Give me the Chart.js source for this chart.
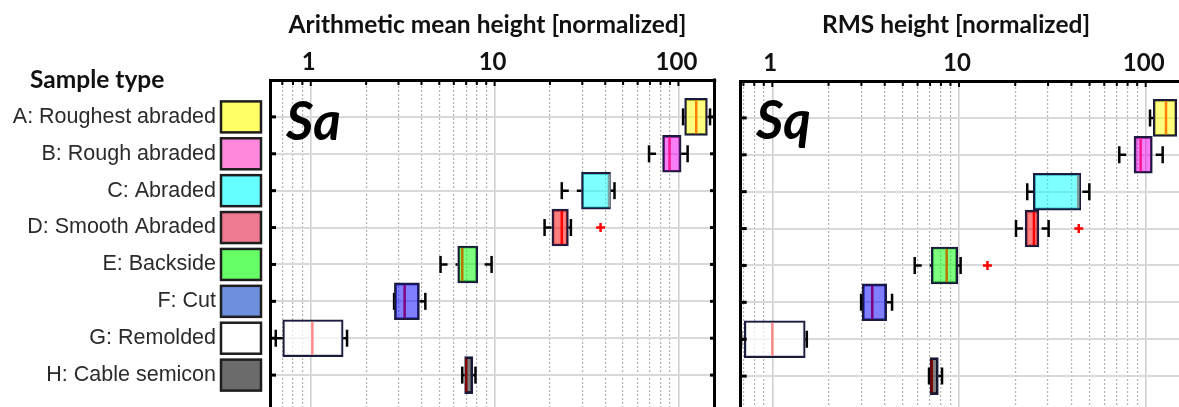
<!DOCTYPE html>
<html>
<head>
<meta charset="utf-8">
<title>Surface height by sample type</title>
<script src="https://cdn.jsdelivr.net/npm/chart.js@4.4.1/dist/chart.umd.min.js"></script>
<style>
  html, body { margin: 0; padding: 0; background: #fff; }
  body { position: relative; width: 1179px; height: 407px; overflow: hidden; }
  canvas { position: absolute; }
  #saChart { left: 0; top: 0; }
  #sqChart { left: 720px; top: 1px; }
  .txt { position: absolute; font-family: Lato, 'Open Sans', sans-serif; font-weight: 700; color: #111; white-space: nowrap; line-height: 1.2; }
  .title { font-size: 24.5px; top: 9px; transform: translateX(-50%); }
  .tag { font-size: 53px; font-style: italic; color: #000; }
</style>
</head>
<body>
<canvas id="saChart" width="720" height="420"></canvas>
<canvas id="sqChart" width="480" height="420"></canvas>
<div class="txt title" style="left:487.5px">Arithmetic mean height [normalized]</div>
<div class="txt title" style="left:956px">RMS height [normalized]</div>
<div class="txt" style="left:30px; top:64px; font-size:24.5px">Sample type</div>
<div class="txt tag" style="left:286px; top:87.5px">Sa</div>
<div class="txt tag" style="left:756px; top:86.5px">Sq</div>
<script>
// Sample types, one row each (row 1 at the top)
const categories = [
  'A: Roughest abraded', 'B: Rough abraded', 'C: Abraded', 'D: Smooth Abraded',
  'E: Backside', 'F: Cut', 'G: Remolded', 'H: Cable semicon'
];
const legendColors = ['#ffff66', '#ff88dd', '#66ffff', '#ee7a92', '#66ff66', '#6e8ede', '#ffffff', '#6b6b6b'];
const boxColors = [
  'rgba(255,255,0,0.5)', 'rgba(238,0,238,0.5)', 'rgba(0,255,255,0.5)', 'rgba(255,0,0,0.5)',
  'rgba(0,255,0,0.5)', 'rgba(0,0,255,0.5)', 'rgba(255,255,255,0.7)', 'rgba(0,0,0,0.5)'
];
const medianColors = ['#ff8000', '#ff1493', '#7fa0a0', '#ff0000', '#b87800', '#800080', '#ff8888', '#800000'];
const majorTicks = [1, 10, 100];

// Sa: arithmetic mean height (normalized) — five-number summaries per sample type
const saLow    = [106,   69.2, 23.2, 18.7, 5.08, 2.84, 0.645, 6.67];
const saQ1     = [108.1, 82.0, 29.7, 20.5, 6.30, 2.85, 0.704, 6.87];
const saMedian = [125,   89.5, 41.9, 23.2, 6.67, 3.24, 1.02,  7.01];
const saQ3     = [143.7, 103.4, 42.7, 25.2, 8.10, 3.90, 1.50, 7.62];
const saHigh   = [148.6, 112.2, 44.9, 26.0, 9.63, 4.20, 1.575, 7.87];
const saOutlierRows = [4];
const saOutlierValues = [37.7];

// Sq: RMS height (normalized)
const sqLow    = [105.5, 72.2, 23.2, 20.2, 5.79, 2.99, 0.68,  6.91];
const sqQ1     = [109.8, 86.6, 25.0, 22.6, 7.10, 3.03, 0.708, 6.99];
const sqMedian = [128.5, 94.0, 43.5, 25.2, 8.59, 3.43, 1.0,   7.14];
const sqQ3     = [146.6, 108.5, 44.9, 26.8, 9.84, 4.10, 1.50, 7.75];
const sqHigh   = [165,   123.3, 49.9, 30.2, 10.2, 4.38, 1.53, 8.11];
const sqOutlierRows = [4, 5];
const sqOutlierValues = [43.8, 14.2];

const rowIndex = categories.map((_, i) => i + 1);

// 1-2-...-9 gridline values per decade inside the axis range
function decadeTicks(min, max) {
  const list = [];
  for (let e = -1; e <= 2; e++) {
    for (let m = 1; m <= 9; m++) {
      const v = Number((m * Math.pow(10, e)).toPrecision(2));
      if (v > min && v < max) list.push({ value: v, major: majorTicks.includes(v) });
    }
  }
  return list;
}
const isMajor = c => !!(c.tick && majorTicks.includes(c.tick.value));

function line(ctx, x1, y1, x2, y2) {
  ctx.beginPath(); ctx.moveTo(x1, y1); ctx.lineTo(x2, y2); ctx.stroke();
}

// Whiskers, medians, inward frame ticks and the sample-colour key
function boxPlotPlugin(panel) {
  return {
    id: 'boxWhiskers',
    beforeDatasetsDraw(chart) {
      const { ctx, chartArea: a, scales: { x, y } } = chart;
      ctx.save();
      ctx.beginPath(); ctx.rect(a.left, a.top, a.width, a.height); ctx.clip();
      ctx.strokeStyle = '#000';
      ctx.lineWidth = 2.5;
      rowIndex.forEach((row, i) => {
        const py = y.getPixelForValue(row);
        const xl = x.getPixelForValue(panel.low[i]);
        const x1 = x.getPixelForValue(panel.q1[i]);
        const x3 = x.getPixelForValue(panel.q3[i]);
        const xh = x.getPixelForValue(panel.high[i]);
        ctx.setLineDash([7, 8]);
        line(ctx, xl, py, x1, py);
        line(ctx, xh, py, x3, py);
        ctx.setLineDash([]);
        line(ctx, xl, py - 8.5, xl, py + 8.5);
        line(ctx, xh, py - 8.5, xh, py + 8.5);
      });
      ctx.restore();
    },
    afterDatasetsDraw(chart) {
      const { ctx, chartArea: a, scales: { x } } = chart;
      const bars = chart.getDatasetMeta(0).data;
      ctx.save();
      ctx.beginPath(); ctx.rect(a.left, a.top, a.width, a.height); ctx.clip();
      ctx.lineWidth = 2.5;
      bars.forEach((bar, i) => {
        const px = x.getPixelForValue(panel.median[i]);
        const h = bar.height / 2 - 2;
        ctx.strokeStyle = medianColors[i];
        line(ctx, px, bar.y - h, px, bar.y + h);
      });
      ctx.restore();
    },
    afterDraw(chart) {
      const { ctx, chartArea: a, scales: { x, y } } = chart;
      ctx.save();
      ctx.strokeStyle = '#000';
      ctx.lineWidth = 2;
      x.ticks.forEach(t => {
        const px = x.getPixelForValue(t.value);
        line(ctx, px, a.top, px, a.top + (t.major ? 6 : 5));
      });
      ctx.lineWidth = 3;
      rowIndex.forEach(row => {
        const py = y.getPixelForValue(row);
        line(ctx, a.left, py, a.left + 6, py);
        if (panel.closeRight) line(ctx, a.right - 6, py, a.right, py);
      });
      if (panel.closeRight) line(ctx, a.right - 1.5, a.top - 1.5, a.right - 1.5, a.bottom);
      if (panel.key) {
        ctx.lineWidth = 2.5;
        ctx.strokeStyle = '#1e1e1e';
        rowIndex.forEach((row, i) => {
          const py = y.getPixelForValue(row);
          ctx.fillStyle = legendColors[i];
          ctx.fillRect(a.left - 49, py - 15.5, 40, 31);
          ctx.strokeRect(a.left - 49, py - 15.5, 40, 31);
        });
      }
      ctx.restore();
    }
  };
}

function buildChart(canvasId, panel) {
  return new Chart(document.getElementById(canvasId), {
    type: 'bar',
    data: {
      datasets: [
        {
          type: 'bar',
          indexAxis: 'y',
          data: rowIndex.map((row, i) => ({ x: [panel.q1[i], panel.q3[i]], y: row })),
          backgroundColor: boxColors,
          borderColor: '#1b1b3d',
          borderWidth: 2,
          borderSkipped: false,
          barPercentage: 1,
          categoryPercentage: 1
        },
        {
          type: 'scatter',
          data: panel.outRows.map((row, k) => ({ x: panel.outValues[k], y: row })),
          pointStyle: 'cross',
          radius: 4.5,
          hoverRadius: 4.5,
          borderColor: '#ff0000',
          backgroundColor: '#ff0000',
          borderWidth: 2.5
        }
      ]
    },
    options: {
      indexAxis: 'y',
      responsive: false,
      animation: false,
      events: [],
      layout: { autoPadding: false, padding: { left: 0, top: 0, right: panel.padRight, bottom: 8 } },
      plugins: { legend: { display: false }, tooltip: { enabled: false } },
      scales: {
        x: {
          type: 'logarithmic',
          position: 'top',
          min: panel.min,
          max: panel.max,
          afterBuildTicks: s => { s.ticks = decadeTicks(panel.min, panel.max); },
          afterFit: s => { s.height = 80; s.paddingLeft = 0; s.paddingRight = 0; },
          ticks: {
            autoSkip: false, maxRotation: 0, padding: 3, labelOffset: -2, color: '#111',
            font: { family: 'Lato', weight: 'bold', size: 24 },
            callback: v => majorTicks.includes(v) ? String(v) : ''
          },
          grid: {
            drawTicks: false,
            color: c => isMajor(c) ? '#d0d0d0' : '#b2b2b2',
            lineWidth: c => isMajor(c) ? 1.6 : 1.2
          },
          border: { display: true, color: '#000', width: 3, dash: c => (c.tick && !isMajor(c)) ? [2, 2] : [] }
        },
        y: {
          type: 'linear',
          reverse: true,
          offset: false,
          min: 0,
          max: 9,
          afterBuildTicks: s => { s.ticks = rowIndex.map(v => ({ value: v })); },
          afterFit: s => { s.width = panel.axisWidth; s.paddingTop = 0; s.paddingBottom = 0; },
          ticks: {
            display: panel.key, autoSkip: false, padding: 54, color: '#2b2b2b',
            font: { family: 'Liberation Sans', size: 21.5 },
            callback: v => categories[v - 1]
          },
          grid: { offset: false, drawTicks: false, color: '#d9d9d9', lineWidth: 2 },
          border: { color: '#000', width: 3 }
        }
      }
    },
    plugins: [boxPlotPlugin(panel)]
  });
}

buildChart('saChart', {
  low: saLow, q1: saQ1, median: saMedian, q3: saQ3, high: saHigh,
  outRows: saOutlierRows, outValues: saOutlierValues,
  min: 0.64, max: 160.1, axisWidth: 270, padRight: 4, closeRight: true, key: true
});
buildChart('sqChart', {
  low: sqLow, q1: sqQ1, median: sqMedian, q3: sqQ3, high: sqHigh,
  outRows: sqOutlierRows, outValues: sqOutlierValues,
  min: 0.677, max: 195.4, axisWidth: 20.7, padRight: 0, closeRight: false, key: false
});
</script>
</body>
</html>
